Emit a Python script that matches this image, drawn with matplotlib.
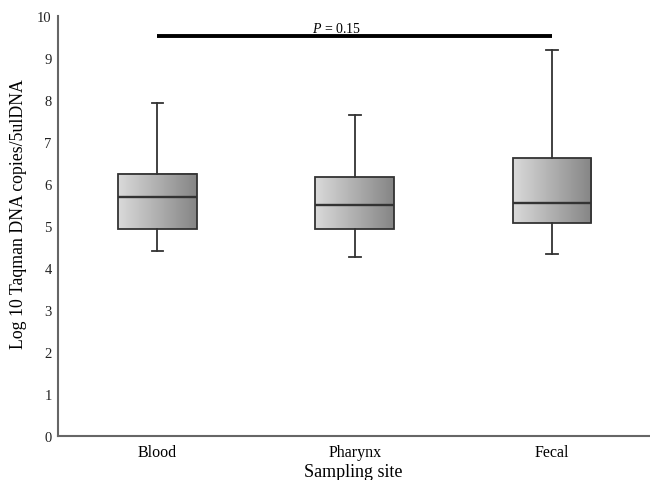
import numpy as np
import matplotlib
matplotlib.use("Agg")
import matplotlib.pyplot as plt
from matplotlib.colors import LinearSegmentedColormap

# Values
sites = ["Blood", "Pharynx", "Fecal"]
whisker_low = [4.41, 4.27, 4.34]
q1 = [4.92, 4.94, 5.08]
medians = [5.68, 5.51, 5.54]
q3 = [6.24, 6.17, 6.61]
whisker_high = [7.92, 7.64, 9.20]
p_label = "0.15"
sig_level = 9.53

plt.rcParams["font.family"] = ["Liberation Serif", "DejaVu Serif"]
plt.rcParams["mathtext.fontset"] = "custom"
plt.rcParams["mathtext.rm"] = "Liberation Serif"
plt.rcParams["mathtext.it"] = "Liberation Serif:italic"

fig = plt.figure(figsize=(6.5, 4.81), dpi=100)
ax = fig.add_axes([0.089, 0.0915, 0.909, 0.873])

stats = []
for i, name in enumerate(sites):
    stats.append({
        "label": name,
        "whislo": whisker_low[i],
        "q1": q1[i],
        "med": medians[i],
        "q3": q3[i],
        "whishi": whisker_high[i],
        "fliers": [],
    })

positions = np.arange(1, len(sites) + 1)
edge = "#333333"
bp = ax.bxp(
    stats,
    positions=positions,
    widths=0.4,
    capwidths=0.06,
    patch_artist=True,
    showfliers=False,
    boxprops=dict(facecolor="none", edgecolor=edge, linewidth=1.3),
    medianprops=dict(color=edge, linewidth=1.7),
    whiskerprops=dict(color=edge, linewidth=1.3),
    capprops=dict(color=edge, linewidth=1.3),
    zorder=3,
)

# gradient fill inside each box
cmap = LinearSegmentedColormap.from_list("box_grey", ["#dadada", "#858585"])
grad = np.linspace(0, 1, 256).reshape(1, -1)
for pos, lo, hi in zip(positions, q1, q3):
    ax.imshow(grad, cmap=cmap, aspect="auto", extent=(pos - 0.2, pos + 0.2, lo, hi),
              zorder=2, interpolation="bicubic")

# significance bar
ax.plot([positions[0], positions[-1]], [sig_level, sig_level], color="black",
        linewidth=2.8, solid_capstyle="butt", zorder=4)
ax.text(1.91, sig_level + 0.03, r"$P$ = " + p_label, ha="center", va="bottom", fontsize=10)

ax.set_xlim(0.495, 3.49)
ax.set_ylim(0, 10)
ax.set_yticks(range(0, 11))
ax.set_xticks(positions)
ax.set_xticklabels(sites, fontsize=11.5)
ax.tick_params(axis="y", length=0, pad=4.5, labelsize=10.5, colors="#222222")
ax.tick_params(axis="x", length=0, pad=6)

for side in ["top", "right"]:
    ax.spines[side].set_visible(False)
for side in ["left", "bottom"]:
    ax.spines[side].set_color("#666666")
    ax.spines[side].set_linewidth(1.5)

ax.set_ylabel("Log 10 Taqman DNA copies/5ulDNA", fontsize=12.8)
ax.yaxis.set_label_coords(-0.053, 0.531)
ax.set_xlabel("Sampling site", fontsize=13, labelpad=2)

fig.savefig("out.png", dpi=100)
